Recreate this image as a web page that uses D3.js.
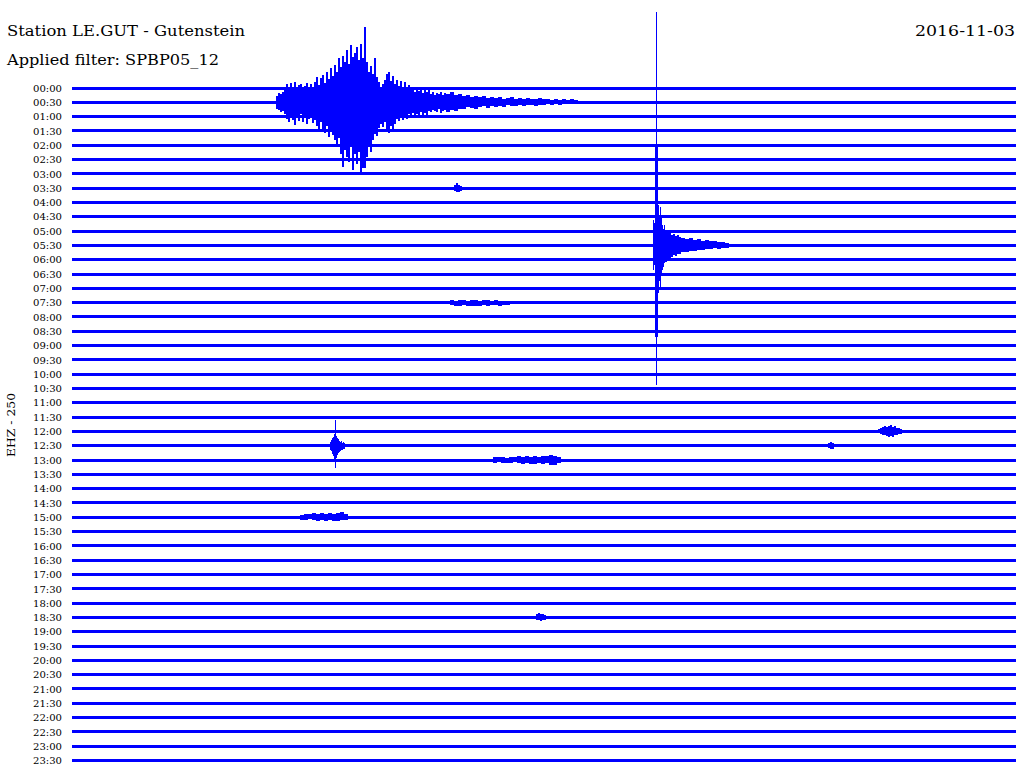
<!DOCTYPE html>
<html><head><meta charset="utf-8">
<script src="https://cdn.jsdelivr.net/npm/d3@7"></script>
<style>body{margin:0;background:#fff} svg{display:block}</style>
</head><body><svg id="c" width="1024" height="780"></svg>
<script>
// ---------- data ----------
const stationTitle = "Station LE.GUT - Gutenstein";
const dateLabel = "2016-11-03";
const filterLabel = "Applied filter: SPBP05_12";
const channelLabel = "EHZ - 250";
const lineLabels = ["00:00","00:30","01:00","01:30","02:00","02:30","03:00","03:30","04:00","04:30",
  "05:00","05:30","06:00","06:30","07:00","07:30","08:00","08:30","09:00","09:30",
  "10:00","10:30","11:00","11:30","12:00","12:30","13:00","13:30","14:00","14:30",
  "15:00","15:30","16:00","16:30","17:00","17:30","18:00","18:30","19:00","19:30",
  "20:00","20:30","21:00","21:30","22:00","22:30","23:00","23:30"];
// background noise half-amplitude per line (counts)
const noiseLevel = [1.5,1.8,1.7,1.5,1.5,1.5,1.5,1.5,1.5,1.5,
  1.5,1.5,1.5,1.5,1.5,1.5,1.5,1.5,1.5,1.5,
  1.5,1.5,1.5,1.5,1.5,1.5,1.5,1.5,1.5,1.5,
  1.6,1.5,1.5,1.5,1.5,1.5,1.5,1.5,1.5,1.5,
  1.5,1.5,1.5,1.5,1.5,1.5,1.5,1.5];

// main earthquake on the 00:30 line (peak envelope up / down, counts)
const quakeUp = [6,9,8,10,14,18,12,19,15,20,13,17,18,12,16,19,14,18,13,20,
  25,17,24,27,19,30,23,34,26,37,30,44,35,46,40,52,38,57,45,49,
  55,42,58,44,75,40,30,36,28,44,25,20,14,18,22,28,30,21,26,18,
  22,16,21,15,20,13,17,12,14,10,13,11,14,9,12,10,13,8,10,7,
  9,8,10,7,9];
const quakeDown = [7,8,10,9,12,17,20,14,18,23,16,19,12,20,15,22,17,14,21,18,
  24,30,20,28,31,24,35,27,33,38,45,36,52,65,48,55,60,44,68,52,
  62,50,70,66,66,55,45,50,38,32,34,26,22,25,20,27,31,24,30,22,
  17,19,15,18,14,17,12,15,11,16,12,15,10,13,11,14,9,10,8,9,
  10,7,11,9,8];
const codaUp =   [8,10,7,8,6,7,5,6,5,6,4,5,4,5,3,4,5,3,4,3,4,3,3,4,3,3,2,3,2,3,2,3,2];
const codaDown = [10,8,9,7,7,5,6,7,5,4,6,4,5,4,5,3,4,4,3,4,3,3,4,3,3,2,3,2,3,2,2,2,2];

// second (local) event on the 05:30 line
const localUp1 =   [25,22,98,233,98,40,30,38,28,20,16,20];
const localDown1 = [25,20,92,140,92,48,36,44,30,25,22,18];
const localUp2 =   [15,12,14,10,11,9,10,8];
const localDown2 = [17,14,16,12,10,11,9,9];
const localUp3 =   [7,6,7,5,6,4,5,4,4,3,3,2];
const localDown3 = [7,7,6,6,5,5,4,4,3,4,3,3];

// smaller events
const ev1230Up =   [4,6,8,9,12,26,10,8,7,5,4,5,3,4,3];
const ev1230Down = [4,5,8,10,14,22,12,9,7,6,5,4,4,3,3];
const ev1200Up =   [2,3,4,5,4,5,6,4,5,3,3,2];
const ev1200Down = [2,3,4,4,5,6,5,6,4,4,3,3];
const ev1300Up =   [3,3,3,2,3,3,4,3,4,3,4,3,4,4,5,4,3];
const ev1300Down = [3,2,3,3,3,2,3,4,3,4,4,3,4,3,5,5,3];
const ev1500Up =   [2,3,3,4,3,4,3,4,3,4,5,3];
const ev1500Down = [3,3,2,3,4,3,4,3,4,4,3,3];
const ev0330Up =   [3,5,3,2];
const ev0330Down = [3,4,4,3];
const ev0730Up =   [3,2,3,3,2,3,3,2,3,3,2,3,2,2,2];
const ev0730Down = [2,3,3,2,3,3,3,3,2,3,2,2,3,2,2];
const ev1830Up =   [3,4,3,3,2];
const ev1830Down = [3,3,4,3,3];
const ev1230bUp =   [3,4,3];
const ev1230bDown = [2,3,3];

// event table: line label, start (s after line start), bin width (s)
const events = [
  {line:"00:30", t0:389.0,  dt:3.81, up:quakeUp,   down:quakeDown},
  {line:"00:30", t0:713.1,  dt:7.63, up:codaUp,    down:codaDown},
  {line:"05:30", t0:1107.8, dt:1.907, up:localUp1, down:localDown1},
  {line:"05:30", t0:1130.7, dt:3.81, up:localUp2,  down:localDown2},
  {line:"05:30", t0:1161.2, dt:7.63, up:localUp3,  down:localDown3},
  {line:"12:30", t0:491.9,  dt:1.907, up:ev1230Up, down:ev1230Down},
  {line:"12:30", t0:1441.5, dt:3.81, up:ev1230bUp, down:ev1230bDown},
  {line:"12:00", t0:1536.9, dt:3.81, up:ev1200Up,  down:ev1200Down},
  {line:"13:00", t0:802.8,  dt:7.63, up:ev1300Up,  down:ev1300Down},
  {line:"15:00", t0:434.7,  dt:7.63, up:ev1500Up,  down:ev1500Down},
  {line:"03:30", t0:728.4,  dt:3.81, up:ev0330Up,  down:ev0330Down},
  {line:"07:30", t0:720.8,  dt:7.63, up:ev0730Up,  down:ev0730Down},
  {line:"18:30", t0:884.7,  dt:3.81, up:ev1830Up,  down:ev1830Down}
];

// ---------- drawing ----------
const svg = d3.select("#c");
const blue = "#0000ff";
const x = d3.scaleLinear().domain([0, 1800]).range([72, 1016]);
const y = d3.scalePoint().domain(lineLabels).range([88, 760.5]);
const amp = d3.scaleLinear().domain([0, 250]).range([0, 250]);

const font = "'DejaVu Serif', 'Liberation Serif', serif";

svg.append("text").attr("x", 7).attr("y", 36).attr("font-family", font)
  .attr("font-size", 15).attr("textLength", 238).attr("lengthAdjust", "spacingAndGlyphs")
  .text(stationTitle);
svg.append("text").attr("x", 1015).attr("y", 36).attr("font-family", font)
  .attr("font-size", 15).attr("text-anchor", "end")
  .attr("textLength", 100).attr("lengthAdjust", "spacingAndGlyphs")
  .text(dateLabel);
svg.append("text").attr("x", 7).attr("y", 65).attr("font-family", font)
  .attr("font-size", 15).attr("textLength", 212).attr("lengthAdjust", "spacingAndGlyphs")
  .text(filterLabel);
svg.append("text").attr("transform", "translate(15,425) rotate(-90)")
  .attr("font-family", font).attr("font-size", 11).attr("text-anchor", "middle")
  .attr("textLength", 64).attr("lengthAdjust", "spacingAndGlyphs")
  .text(channelLabel);

// hour labels (axis)
const axis = d3.axisLeft(y).tickSize(0).tickPadding(0);
const ga = svg.append("g").attr("transform", "translate(62,0)").call(axis);
ga.select(".domain").remove();
ga.selectAll("text").attr("font-family", font).attr("font-size", 10)
  .attr("fill", "#000").attr("textLength", 29).attr("lengthAdjust", "spacingAndGlyphs");

// background trace bands
const band = d3.area().x(d => x(d.t)).y0(d => d.base + amp(d.n)).y1(d => d.base - amp(d.n));
svg.append("g").selectAll("path").data(lineLabels).join("path")
  .attr("d", (l, i) => band([0, 1800].map(t => ({t, base: y(l), n: noiseLevel[i]}))))
  .attr("fill", blue).attr("shape-rendering", "crispEdges");

// events
const env = d3.area().curve(d3.curveStepAfter)
  .x(d => x(d.t)).y0(d => d.base + amp(d.d)).y1(d => d.base - amp(d.u));
svg.append("g").selectAll("path").data(events).join("path")
  .attr("d", e => {
    const pts = e.up.map((u, i) => ({t: e.t0 + i * e.dt, u, d: e.down[i], base: y(e.line)}));
    const last = pts[pts.length - 1];
    pts.push({...last, t: e.t0 + e.up.length * e.dt});
    return env(pts);
  })
  .attr("fill", blue).attr("shape-rendering", "crispEdges");
</script></body></html>
